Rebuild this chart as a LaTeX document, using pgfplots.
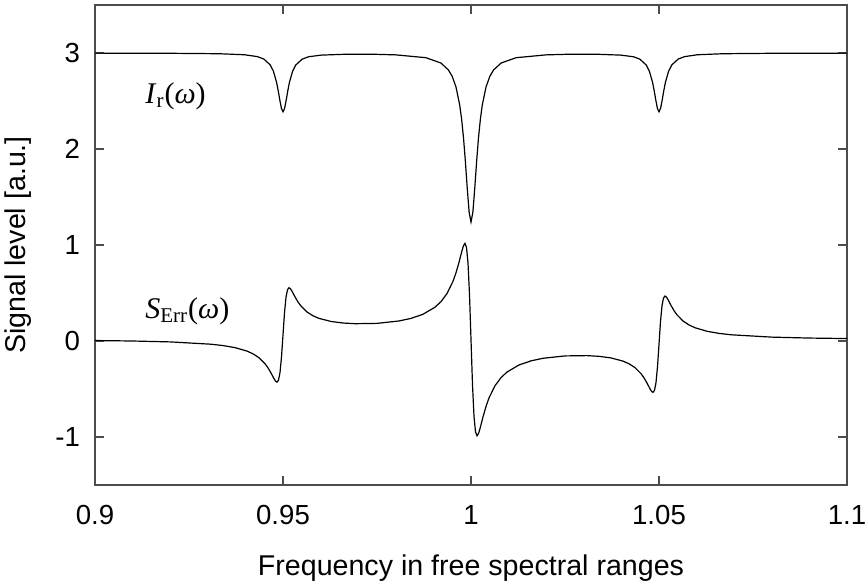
\documentclass[border=0pt]{standalone}
\usepackage{pgfplots}
\pgfplotsset{compat=1.18}
\usepackage{fontspec}
\setmainfont{Liberation Sans}
\newfontfamily\timesfont{Liberation Serif}
\begin{document}
\begin{tikzpicture}
\path[use as bounding box] (-47.5pt,-51.5pt) rectangle (385.5pt,242.5pt);
\begin{axis}[
  scale only axis,
  width=376pt, height=240pt,
  xmin=0.9, xmax=1.1, ymin=-1.5, ymax=3.5,
  xtick={0.9,0.95,1,1.05,1.1},
  xticklabels={0.9,0.95,1,1.05,1.1},
  ytick={-1,0,1,2,3},
  yticklabels={-1,0,1,2,3},
  tick align=inside,
  major tick length=4.5pt,
  axis line style={gray!60!black, line width=0.7pt},
  every tick/.style={gray!60!black, line width=0.6pt},
  tick label style={font=\fontsize{13.8}{16}\selectfont},
  xticklabel style={anchor=center, yshift=-15pt},
  yticklabel style={anchor=east, xshift=-4pt},
  label style={font=\fontsize{14.3}{17}\selectfont},
  xlabel={Frequency in free spectral ranges},
  ylabel={Signal level [a.u.]},
  xlabel style={at={(axis description cs:0.5,0)}, anchor=center, yshift=-41.5pt},
  ylabel style={at={(axis description cs:-0.1024,0.5)}, anchor=center},
]
\addplot[black, line width=0.6pt] coordinates {
(0.9,2.9986) (0.92,2.9969) (0.933,2.9924) (0.9398,2.9816) (0.9432,2.9621)
(0.9449,2.937) (0.9466,2.876) (0.94745,2.8103) (0.9483,2.693) (0.948725,2.6076)
(0.94915,2.510) (0.949575,2.4239) (0.95,2.388) (0.950425,2.4229) (0.95085,2.509)
(0.951275,2.6066) (0.9517,2.692) (0.95255,2.8093) (0.9534,2.875) (0.9551,2.936)
(0.9568,2.961) (0.9602,2.978) (0.967,2.9876) (0.975,2.986) (0.98,2.9806)
(0.988,2.9511) (0.992,2.8955) (0.994,2.823) (0.995,2.7563) (0.996,2.647)
(0.997,2.4575) (0.9975,2.3122) (0.998,2.119) (0.9985,1.8726) (0.999,1.591)
(0.9995,1.3425) (1.0,1.239) (1.0005,1.3425) (1.001,1.591) (1.0015,1.8726)
(1.002,2.119) (1.0025,2.3122) (1.003,2.4575) (1.004,2.647) (1.005,2.7563)
(1.006,2.823) (1.008,2.8955) (1.012,2.9511) (1.02,2.9806) (1.025,2.986)
(1.033,2.9876) (1.0398,2.978) (1.0432,2.961) (1.0449,2.936) (1.0466,2.875)
(1.04745,2.8093) (1.0483,2.692) (1.048725,2.6066) (1.04915,2.509) (1.049575,2.4229)
(1.05,2.388) (1.050425,2.4239) (1.05085,2.510) (1.051275,2.6076) (1.0517,2.693)
(1.05255,2.8103) (1.0534,2.876) (1.0551,2.937) (1.0568,2.9621) (1.0602,2.9816)
(1.067,2.9924) (1.08,2.9969) (1.1,2.9986)
};
\addplot[black, line width=0.6pt] coordinates {
(0.9,0.0049) (0.91,-0.0001) (0.92,-0.0094) (0.9308,-0.0333) (0.934,-0.0473)
(0.9372,-0.0688) (0.9404,-0.1048) (0.942,-0.1331) (0.9436,-0.1739) (0.9452,-0.2359)
(0.946,-0.2791) (0.9468,-0.3323) (0.9476,-0.3919) (0.948,-0.4171) (0.9484,-0.4287)
(0.9488,-0.4087) (0.9492,-0.3299) (0.9496,-0.168) (0.95,0.063) (0.9504,0.2941)
(0.9508,0.4559) (0.9512,0.5348) (0.9516,0.5549) (0.952,0.5433) (0.9524,0.5181)
(0.9532,0.4589) (0.954,0.4059) (0.9548,0.363) (0.9564,0.3019) (0.958,0.2623)
(0.9596,0.2354) (0.9628,0.2033) (0.966,0.1871) (0.9692,0.1802) (0.975,0.1837)
(0.9808,0.2083) (0.984,0.2349) (0.9872,0.2779) (0.9904,0.3513) (0.992,0.4093)
(0.9936,0.4932) (0.9952,0.6205) (0.996,0.7092) (0.9968,0.8184) (0.9976,0.9405)
(0.998,0.9925) (0.9984,1.0164) (0.9988,0.9759) (0.9992,0.8154) (0.9996,0.4855)
(1.0,0.0144) (1.0004,-0.4567) (1.0008,-0.7866) (1.0012,-0.9472) (1.0016,-0.9877)
(1.002,-0.9638) (1.0024,-0.9118) (1.0032,-0.7897) (1.004,-0.6804) (1.0048,-0.5918)
(1.0064,-0.4645) (1.008,-0.3807) (1.0096,-0.3226) (1.0128,-0.2492) (1.016,-0.2063)
(1.0192,-0.1798) (1.025,-0.1554) (1.0308,-0.1523) (1.034,-0.1595) (1.0372,-0.1761)
(1.0404,-0.2091) (1.042,-0.2365) (1.0436,-0.2769) (1.0452,-0.3393) (1.046,-0.3831)
(1.0468,-0.4372) (1.0476,-0.4978) (1.048,-0.5235) (1.0484,-0.5352) (1.0488,-0.5147)
(1.0492,-0.4342) (1.0496,-0.2691) (1.05,-0.0333) (1.0504,0.2024) (1.0508,0.3676)
(1.0512,0.448) (1.0516,0.4684) (1.052,0.4566) (1.0524,0.4308) (1.0532,0.37)
(1.054,0.3157) (1.0548,0.2716) (1.0564,0.2083) (1.058,0.1666) (1.0596,0.1378)
(1.0628,0.101) (1.066,0.079) (1.0692,0.0647) (1.08,0.0403) (1.09,0.0306)
(1.1,0.0255)
};
\node[anchor=west, inner sep=0pt, font=\fontsize{15}{17}\selectfont\timesfont] at (axis cs:0.9133,2.55)
  {\textit{I}\textsubscript{r}(\textit{ω})};
\node[anchor=west, inner sep=0pt, font=\fontsize{15}{17}\selectfont\timesfont] at (axis cs:0.9133,0.31)
  {\textit{S}\textsubscript{Err}(\textit{ω})};
\end{axis}
\end{tikzpicture}
\end{document}
